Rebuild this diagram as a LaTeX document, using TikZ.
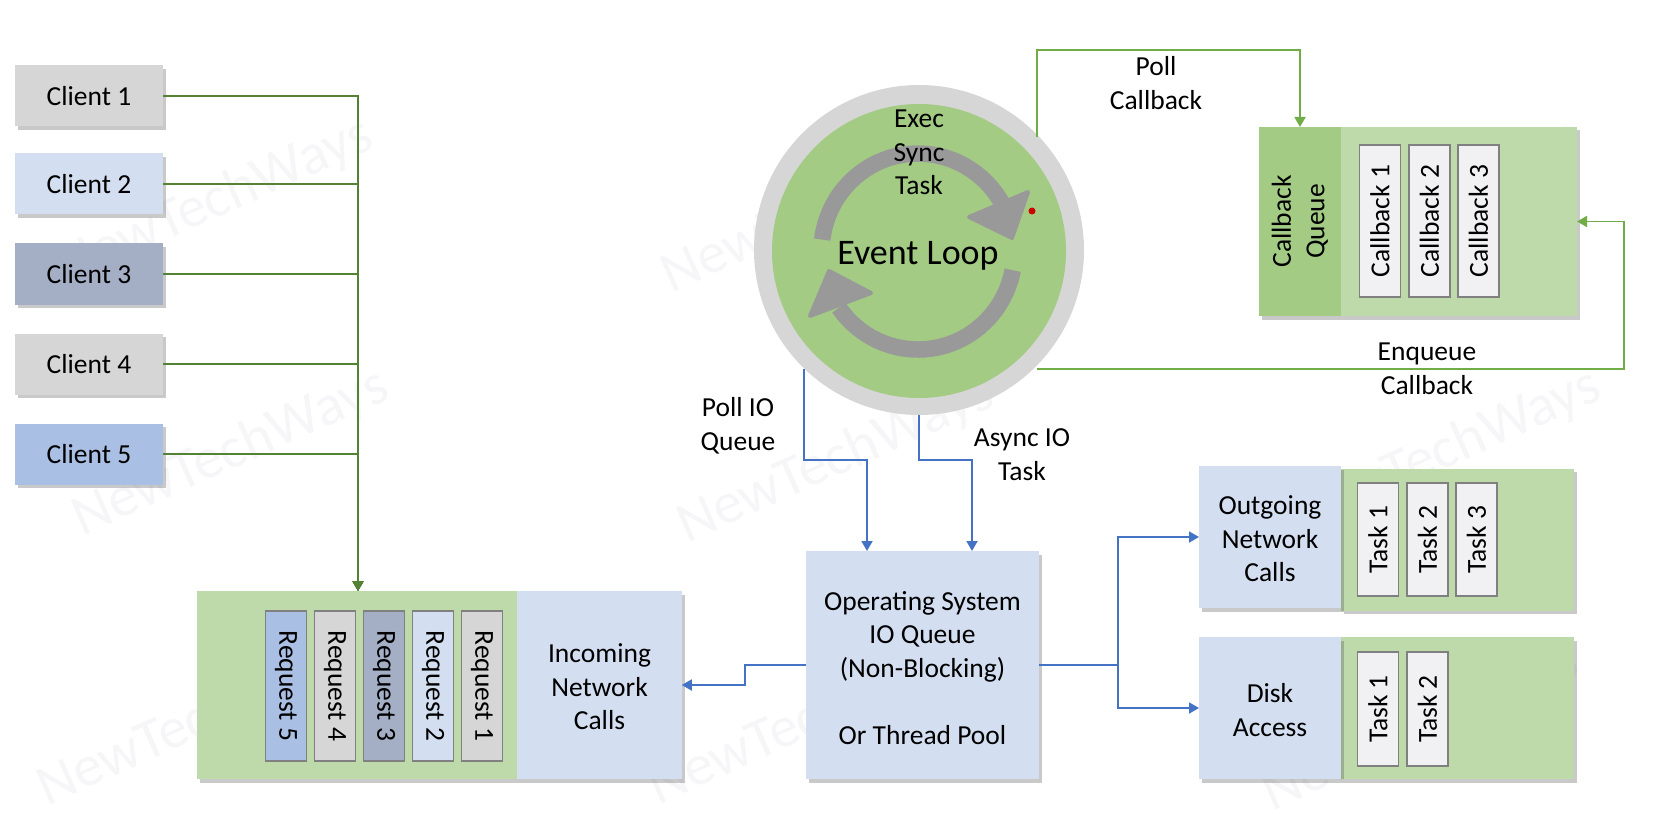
\documentclass[tikz,border=0pt]{standalone}
\usepackage{fontspec}
\setmainfont{Carlito}
\usetikzlibrary{arrows.meta,shadows}

\definecolor{greyone}{HTML}{D6D6D6}
\definecolor{blueone}{HTML}{D3DEF0}
\definecolor{bluetwo}{HTML}{A4AFC6}
\definecolor{bluethree}{HTML}{A9BFE4}
\definecolor{palegreen}{HTML}{BFDAAA}
\definecolor{midgreen}{HTML}{A3CB84}
\definecolor{darkline}{HTML}{548235}
\definecolor{lightline}{HTML}{70AD47}
\definecolor{blueline}{HTML}{4472C4}
\definecolor{loopgrey}{HTML}{999999}
\definecolor{stripfill}{HTML}{F1F0F3}
\definecolor{markgrey}{HTML}{F6F6F8}
\newcommand{\downtext}{\rule{0pt}{23pt}}

\begin{document}
\begin{tikzpicture}[x=1pt,y=-1pt,every node/.style={align=center,outer sep=0pt,inner sep=0pt,font=\fontsize{27.5}{33.5}\selectfont},
softshadow/.style={drop shadow={shadow xshift=2.5pt,shadow yshift=-3.5pt,opacity=.3,fill=black!70}},
clientbox/.style={softshadow,minimum width=148,minimum height=61},
panel/.style={softshadow,fill=palegreen},
labelbox/.style={fill=blueone},
strip/.style={draw=black!50,line width=1.3pt,minimum height=41},
darkarrow/.style={draw=darkline,line width=1.7pt,-{Triangle[length=10pt,width=11pt]}},
lightarrow/.style={draw=lightline,line width=1.8pt,-{Triangle[length=10pt,width=11pt]}},
bluearrow/.style={draw=blueline,line width=1.8pt,-{Triangle[length=10pt,width=11pt]}}]
\useasboundingbox (0,0) rectangle (1677,818);

% watermark
\foreach \wx/\wy in {66/285,82/536,47/806,671/293,687/543,658/805,1272/287,1294/536,1272/811}
  \node[anchor=base west,rotate=24,text=markgrey,font=\fontsize{58}{58}\selectfont] at (\wx,\wy) {NewTechWays};

% clients
\node[clientbox,fill=greyone] (client1) at (89,96) {Client 1};
\node[clientbox,fill=blueone] (client2) at (89,184) {Client 2};
\node[clientbox,fill=bluetwo] (client3) at (89,274) {Client 3};
\node[clientbox,fill=greyone] (client4) at (89,364) {Client 4};
\node[clientbox,fill=bluethree] (client5) at (89,454) {Client 5};

% incoming network calls
\node[panel,minimum width=485,minimum height=188] (inpanel) at (439.5,685) {};
\node[labelbox,minimum width=164.5,minimum height=188] (incoming) at (599.5,685) {\downtext Incoming\\Network\\Calls};
\node[strip,fill=bluethree,rotate=-90,minimum width=150] (req5) at (286,686) {Request 5};
\node[strip,fill=greyone,rotate=-90,minimum width=150] (req4) at (335,686) {Request 4};
\node[strip,fill=bluetwo,rotate=-90,minimum width=150] (req3) at (384,686) {Request 3};
\node[strip,fill=blueone,rotate=-90,minimum width=150] (req2) at (433,686) {Request 2};
\node[strip,fill=greyone,rotate=-90,minimum width=150] (req1) at (482,686) {Request 1};
\coordinate (busin) at (358,591);
\foreach \i in {1,...,5}
  \draw[darkarrow] (client\i.east) -| (busin);

% event loop
\node[circle,fill=greyone,minimum size=330] (loopring) at (919,250) {};
\node[circle,fill=midgreen,minimum size=294] (loopcore) at (919,251) {};
\draw[loopgrey,line width=16.5pt] (822.2,239.6) arc[start angle=173,end angle=30,x radius=96.5pt,y radius=98pt];
\draw[loopgrey,line width=16.5pt] (1012.7,270.2) arc[start angle=-11,end angle=-145,x radius=96.5pt,y radius=98pt];
\draw[loopgrey,fill=loopgrey,line width=4pt,line join=round] (1028,192) -- (969,217) -- (1012,238) -- cycle;
\draw[loopgrey,fill=loopgrey,line width=4pt,line join=round] (829,271) -- (871,293) -- (810,316) -- cycle;
\fill[red!80!black] (1032,211) circle[radius=3.5pt];
\node (exectext) at (919,152.5) {Exec\\Sync\\Task};
\node[font=\fontsize{36}{40}\selectfont] (looptext) at (918,256) {Event Loop};

% callback queue
\node[panel,minimum width=318,minimum height=189] (cbpanel) at (1418,221.5) {};
\node[fill=midgreen,rotate=90,minimum width=189,minimum height=82] (cbq) at (1300,221.5) {Callback\\Queue};
\node[strip,fill=stripfill,rotate=90,minimum width=152] (cb1) at (1380,221) {Callback 1};
\node[strip,fill=stripfill,rotate=90,minimum width=152] (cb2) at (1429.5,221) {Callback 2};
\node[strip,fill=stripfill,rotate=90,minimum width=152] (cb3) at (1478.5,221) {Callback 3};
\coordinate (pollout) at (1037,137);
\coordinate (enqout) at (1037,369);
\draw[lightarrow] (pollout) -- ++(0,-87) -| (cbq.east);
\draw[lightarrow] (enqout) -- ++(587,0) |- (cbpanel.east);
\node (polltext) at (1156,83) {Poll\\Callback};
\node (enqtext) at (1427,369) {Enqueue\\Callback};

% operating system queue
\node[softshadow,labelbox,minimum width=233,minimum height=228] (os) at (922.5,665) {\rule{0pt}{25pt}Operating System\\IO Queue\\(Non-Blocking)\\~\\Or Thread Pool};
\coordinate (ospoll) at (867,551);
\coordinate (osasync) at (972,551);
\draw[bluearrow] (loopring.226) -- ++(0,91.3) -| (ospoll);
\draw[bluearrow] (loopring.south) -- ++(0,45) -| (osasync);
\draw[bluearrow] (os.west) -- ++(-61,0) |- (incoming.east);
\node (polliotext) at (738,426) {Poll IO\\Queue};
\node (asynctext) at (1022,454.5) {Async IO\\Task};

% outgoing network calls
\node[panel,minimum width=233,minimum height=142] (outpanel) at (1457.5,539.5) {};
\node[softshadow,labelbox,minimum width=142,minimum height=142] (outgoing) at (1270,537) {\downtext Outgoing\\Network\\Calls};
\node[strip,fill=stripfill,rotate=90,minimum width=113] (out1) at (1378,539.5) {Task 1};
\node[strip,fill=stripfill,rotate=90,minimum width=113] (out2) at (1427.5,539.5) {Task 2};
\node[strip,fill=stripfill,rotate=90,minimum width=113] (out3) at (1476.5,539.5) {Task 3};

% disk access
\node[panel,minimum width=233,minimum height=142] (diskpanel) at (1457.5,708) {};
\node[softshadow,labelbox,minimum width=142,minimum height=142] (disk) at (1270,708) {\downtext Disk\\Access};
\node[strip,fill=stripfill,rotate=90,minimum width=114] (disk1) at (1378,709) {Task 1};
\node[strip,fill=stripfill,rotate=90,minimum width=114] (disk2) at (1427.5,709) {Task 2};
\draw[bluearrow] (os.east) -- ++(79,0) |- (outgoing.west);
\draw[bluearrow] (os.east) -- ++(79,0) |- (disk.west);
\end{tikzpicture}
\end{document}
